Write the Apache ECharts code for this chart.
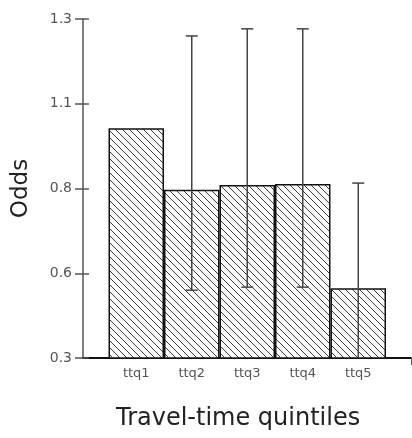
<!DOCTYPE html>
<html>
<head>
<meta charset="utf-8">
<script src="https://cdn.jsdelivr.net/npm/echarts@6/dist/echarts.min.js"></script>
<style>
  html, body { margin: 0; padding: 0; background: #fff; }
  #chart { width: 412px; height: 438px; }
</style>
</head>
<body>
<div id="chart"></div>
<script>
const categories = ['ttq1', 'ttq2', 'ttq3', 'ttq4', 'ttq5']
const odds = [0.978, 0.796, 0.81, 0.813, 0.506]
const upper = [null, 1.25, 1.271, 1.271, 0.816]
const lower = [null, 0.5, 0.509, 0.509, 0.25]
const yTickLabels = ['0.3', '0.6', '0.8', '1.1', '1.3']

// diagonal hatch tile
const makeHatch = () => {
  const s = 7
  const c = document.createElement('canvas')
  c.width = s
  c.height = s
  const ctx = c.getContext('2d')
  ctx.fillStyle = '#fff'
  ctx.fillRect(0, 0, s, s)
  ctx.strokeStyle = '#3a3a3a'
  ctx.lineWidth = 1
  ctx.beginPath()
  ctx.moveTo(-1, -1); ctx.lineTo(s + 1, s + 1)
  ctx.moveTo(-1, s - 1); ctx.lineTo(1, s + 1)
  ctx.moveTo(s - 1, -1); ctx.lineTo(s + 1, 1)
  ctx.stroke()
  return c
}

const chart = echarts.init(document.getElementById('chart'))
const labelFont = { color: '#555', fontFamily: 'DejaVu Sans' }

const option = {
  animation: false,
  title: {
    text: 'Travel-time quintiles',
    left: 111,
    top: 402,
    textStyle: { fontFamily: 'DejaVu Sans', fontSize: 24, fontWeight: 'normal', color: '#222' }
  },
  grid: [
    { left: 83, right: 1, top: 19, bottom: 80 },
    { left: 108.5, right: 26, top: 19, bottom: 80 }
  ],
  xAxis: [
    {
      gridIndex: 0,
      type: 'category',
      data: ['', ''],
      boundaryGap: false,
      axisLine: { lineStyle: { color: '#111', width: 2 } },
      axisTick: { length: 7, interval: (i) => i === 1, lineStyle: { color: '#555' } },
      axisLabel: { show: false }
    },
    {
      gridIndex: 1,
      type: 'category',
      data: categories,
      axisLine: { show: false },
      axisTick: { alignWithLabel: true, length: 6, lineStyle: { color: '#555' } },
      axisLabel: { ...labelFont, fontSize: 13, margin: 9 }
    }
  ],
  yAxis: [
    {
      gridIndex: 0,
      type: 'value',
      min: 0.3,
      max: 1.3,
      interval: 0.25,
      name: 'Odds',
      nameLocation: 'middle',
      nameGap: 50,
      nameTextStyle: { fontFamily: 'DejaVu Sans', fontSize: 23, color: '#222' },
      axisLine: { show: true, lineStyle: { color: '#555', width: 1.5 } },
      axisTick: { show: true, length: 8, lineStyle: { color: '#555', width: 1.5 } },
      splitLine: { show: false },
      axisLabel: {
        ...labelFont,
        fontSize: 14,
        margin: 11,
        formatter: (v) => yTickLabels[Math.round((v - 0.3) / 0.25)]
      }
    },
    {
      gridIndex: 0,
      type: 'value',
      min: 0.3,
      max: 1.3,
      interval: 0.25,
      position: 'left',
      axisLine: { show: false },
      axisTick: { show: true, inside: true, length: 6, lineStyle: { color: '#555', width: 1.5 } },
      splitLine: { show: false },
      axisLabel: { show: false }
    },
    {
      gridIndex: 1,
      type: 'value',
      min: 0.3,
      max: 1.3,
      show: false
    }
  ],
  series: [
    {
      type: 'bar',
      xAxisIndex: 1,
      yAxisIndex: 2,
      data: odds,
      barWidth: '100%',
      itemStyle: {
        color: { image: makeHatch(), repeat: 'repeat' },
        borderColor: '#111',
        borderWidth: 1.5
      }
    },
    {
      type: 'custom',
      xAxisIndex: 1,
      yAxisIndex: 2,
      clip: true,
      z: 5,
      data: categories.map((c, i) => [i, lower[i], upper[i]]),
      renderItem: (params, api) => {
        if (api.value(2) == null || isNaN(api.value(2))) return
        const hi = api.coord([api.value(0), api.value(2)])
        const lo = api.coord([api.value(0), api.value(1)])
        const w = 6
        const style = { stroke: '#444', lineWidth: 1.5 }
        return {
          type: 'group',
          children: [
            { type: 'line', shape: { x1: hi[0], y1: hi[1], x2: lo[0], y2: lo[1] }, style },
            { type: 'line', shape: { x1: hi[0] - w, y1: hi[1], x2: hi[0] + w, y2: hi[1] }, style },
            { type: 'line', shape: { x1: lo[0] - w, y1: lo[1], x2: lo[0] + w, y2: lo[1] }, style }
          ]
        }
      }
    }
  ]
}

chart.setOption(option)
</script>
</body>
</html>
